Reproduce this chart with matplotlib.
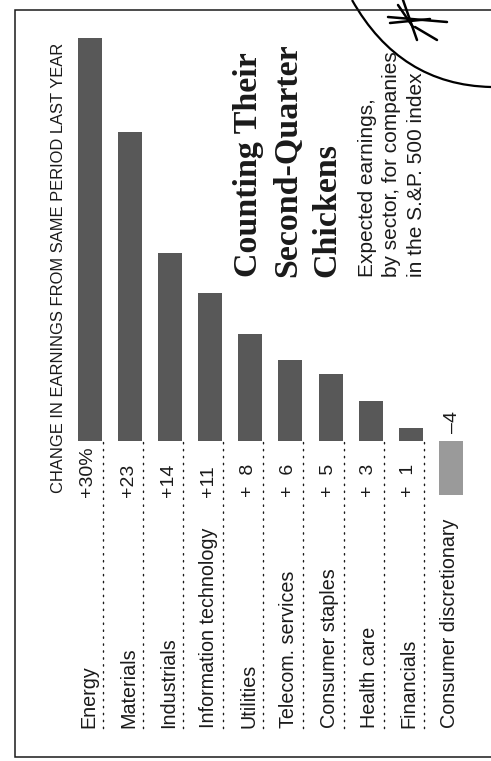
import numpy as np
import matplotlib.pyplot as plt
from matplotlib.path import Path
from matplotlib.patches import PathPatch

# Expected second-quarter earnings change by S.&P. 500 sector
sectors = ["Energy", "Materials", "Industrials", "Information technology",
           "Utilities", "Telecom. services", "Consumer staples", "Health care",
           "Financials", "Consumer discretionary"]
change = [30, 23, 14, 11, 8, 6, 5, 3, 1, -4]
value_labels = ["+30%", "+23", "+14", "+11", "+\u20078", "+\u20076",
                "+\u20075", "+\u20073", "+\u20071", "\u20134"]

title_lines = ["Counting Their", "Second-Quarter", "Chickens"]
subtitle_lines = ["Expected earnings,", "by sector, for companies",
                  "in the S.&P. 500 index"]
header = "CHANGE IN EARNINGS FROM SAME PERIOD LAST YEAR"

W, H = 491, 761
SANS = ["Liberation Sans", "DejaVu Sans"]
INK = "#1a1a1a"

fig = plt.figure(figsize=(W / 100, H / 100), dpi=100)
fig.patch.set_facecolor("white")

# the graphic is laid out sideways: rows run left to right, bars grow upward
zero_px = 441
px_per_unit = 13.43
ax = fig.add_axes([0, 0, 1, 1])
ax.set_axis_off()
ax.set_xlim(0, W)
ax.set_ylim((zero_px - H) / px_per_unit, zero_px / px_per_unit)

xs = 90 + 40.1 * np.arange(len(sectors))
colors = ["#585858" if v > 0 else "#9a9a9a" for v in change]
ax.bar(xs, change, width=24, color=colors, linewidth=0)

# overlay in page pixels for text and rules
page = fig.add_axes([0, 0, 1, 1], facecolor="none")
page.set_axis_off()
page.set_xlim(0, W)
page.set_ylim(H, 0)

def vtext(x, y, s, **kw):
    kw.setdefault("ha", "left")
    kw.setdefault("va", "baseline")
    page.text(x, y, s, rotation=90, rotation_mode="anchor", color=INK, **kw)

vtext(63, 493, header, fontsize=11.9, family=SANS)

for i, (name, lab, v) in enumerate(zip(sectors, value_labels, change)):
    xc = xs[i]
    vtext(xc + 4, 728, name, fontsize=14.2, family=SANS)
    if v > 0:
        vtext(xc - 2, 497, lab, fontsize=14, family=SANS, va="center")
    else:
        vtext(xc + 2, 433, lab, fontsize=14, family=SANS, va="center")
    if i < len(sectors) - 1:
        page.plot([xc + 13, xc + 13], [442, 730], color=INK, lw=1.0,
                  linestyle=(0, (1, 4)), dash_capstyle="round")

for k, line in enumerate(title_lines):
    vtext(257 + 39 * k, 277, line, fontsize=24.5, fontweight="bold",
          family=["Liberation Serif", "DejaVu Serif"])

for k, line in enumerate(subtitle_lines):
    vtext(373 + 24.5 * k, 277, line, fontsize=15, family=SANS)

# frame
page.plot([491, 15, 15, 491], [10, 10, 757, 757], color=INK, lw=1.1,
          solid_joinstyle="miter")

# pen mark in the corner
arc = Path([(352, 0), (400, 85), (491, 87)],
           [Path.MOVETO, Path.CURVE3, Path.CURVE3])
page.add_patch(PathPatch(arc, facecolor="none", edgecolor="black", lw=1.6))
strokes = [[(388, 17), (447, 22)], [(390, 23), (430, 19)],
           [(403, 0), (417, 40)], [(398, 5), (413, 27)],
           [(415, 27), (437, 40)]]
for s in strokes:
    (x0, y0), (x1, y1) = s
    page.plot([x0, x1], [y0, y1], color="black", lw=1.8, solid_capstyle="round")

fig.savefig("out.png", dpi=100, facecolor="white")
